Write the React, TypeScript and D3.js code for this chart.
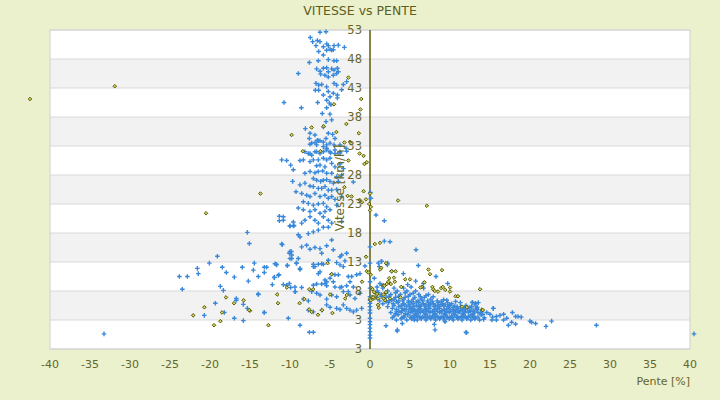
import * as d3 from "d3";

// Pente [%], Vitesse [km/h]
const blueTop: [number, number][] = [
  [-6.25, 52.6], [-5.5, 52.7], [-7.46, 51.7], [-7.17, 51.0], [-6.58, 51.2], [-6.25, 51.0], [-5.42, 50.6], [-5.21, 50.3],
  [-4.5, 50.3], [-3.96, 50.4], [-3.2, 50.0], [-6.75, 50.3], [-5.83, 50.1], [-6.42, 49.3], [-5.83, 48.7], [-5.42, 49.5],
  [-5, 49.7], [-4.8, 49.5], [-4.58, 49.6], [-5.21, 47.9], [-4.5, 47.7], [-4.17, 47.7], [-7.58, 47.4], [-6.46, 47.7],
  [-8.96, 45.5], [-6.67, 46.3], [-6.25, 45.9], [-5.83, 46.4], [-5.42, 46.5], [-5.21, 45.8], [-4.79, 46.3], [-4.5, 46.1],
  [-4.08, 46.4], [-6.17, 45.4], [-5.63, 45.2], [-5.21, 44.9], [-4.58, 45.2], [-4.17, 45.5], [-3.96, 45.8], [-6.75, 43.8],
  [-6.42, 43.5], [-6.04, 43.6], [-5.42, 43.2], [-4.5, 43.8], [-4.17, 43.5], [-3.33, 43.6], [-2.92, 44.1], [-6.83, 42.6],
  [-6.42, 42.6], [-5.83, 41.8], [-5.21, 42.4], [-5, 41.5], [-4.58, 42.1], [-4.08, 41.8], [-4.08, 41.3], [-3.54, 42.7],
  [-10.75, 40.5], [-6.54, 40.5], [-5.42, 40.9], [-5.08, 40.4], [-4.88, 40.1], [-8.58, 39.6], [-5.42, 39.6], [-5.96, 38.6],
  [-5, 38.5], [-4.79, 37.5], [-5.5, 37.2], [-5.83, 36.3], [-8.08, 36.0], [-7.5, 35.2], [-6.88, 34.9], [-6.58, 34.0],
  [-7.58, 34.3], [-7.29, 33.5], [-6.67, 33.2], [-6.25, 33.9], [-5.5, 34.3], [-5.21, 35.2], [-4.67, 35.0], [-4.38, 34.3],
  [-5.83, 32.9], [-5.42, 32.6], [-5, 32.0], [-4.38, 32.3], [-3.75, 32.0], [-2.92, 32.1], [-6.88, 32.0], [-8.13, 32.0],
  [-7.5, 31.7],
];

const blueMid: [number, number][] = [
  [-7.5, 33.3], [-6.88, 33.6], [-6.46, 33.9], [-5.83, 33.7], [-5.42, 33.2], [-5, 33.5], [-4.5, 33.2], [-3.75, 33.2],
  [-3, 32.6], [-7.71, 31.7], [-7.29, 31.4], [-6.67, 32.0], [-6.25, 31.7], [-5.83, 32.0], [-5.42, 32.3], [-4.92, 31.8],
  [-4.38, 31.7], [-3.75, 31.8], [-5, 30.9], [-5.42, 30.6], [-5.83, 30.9], [-6.46, 30.6], [-7.08, 30.6], [-7.5, 30.3],
  [-8.33, 30.6], [-8.75, 30.5], [-6.67, 29.6], [-6.25, 29.7], [-5.63, 29.4], [-4.79, 30.0], [-4.38, 29.4], [-3.75, 29.9],
  [-3.33, 29.1], [-11.04, 30.6], [-10.42, 30.5], [-9.92, 29.7], [-9.58, 28.9], [-8.13, 28.3], [-7.5, 28.6], [-6.88, 28.4],
  [-6.46, 28.6], [-5.92, 28.7], [-5.42, 28.3], [-4.79, 28.3], [-4.17, 27.7], [-3.54, 28.0], [-7.08, 27.4], [-6.67, 27.1],
  [-6.17, 26.9], [-5.83, 27.1], [-5.42, 27.2], [-5, 26.9], [-4.58, 26.6], [-3.96, 26.9], [-9.67, 26.9], [-8.75, 26.3],
  [-8.13, 26.6], [-7.5, 26.1], [-7.08, 26.0], [-6.46, 25.7], [-6.04, 25.7], [-5.63, 26.0], [-5.21, 25.4], [-4.79, 25.4],
  [-4.17, 25.5], [-9.25, 25.1], [-8.54, 24.8], [-7.92, 24.5], [-7.5, 24.3], [-6.88, 24.8], [-6.25, 24.3], [-5.63, 24.5],
  [-5.21, 24.0], [-4.79, 24.3], [-4.38, 23.8], [-3.54, 24.3], [-8.33, 23.4], [-7.71, 23.1], [-7.08, 22.8], [-6.46, 23.0],
  [-5.83, 23.1], [-5.42, 22.5], [-8.96, 22.3], [-8.33, 22.0], [-7.5, 21.7], [-6.88, 22.0], [-6.25, 21.4], [-5.63, 21.7],
  [-5, 22.0], [-4.17, 22.8], [-10.83, 20.8], [-11.33, 20.1], [-10, 19.2], [-9.58, 19.2], [-9.58, 19.9], [-8.54, 19.7],
  [-8.13, 20.2], [-7.5, 20.8], [-6.88, 20.2], [-6.46, 19.7], [-5.83, 20.8], [-5.21, 20.2], [-4.79, 19.7], [-3.54, 20.0],
  [-8.75, 17.3], [-7.71, 17.9], [-7.08, 18.2], [-6.46, 18.5], [-5.83, 19.0], [-5.21, 19.0], [-11.04, 16.1], [-10, 14.8],
  [-9.79, 14.2], [-8.96, 13.6], [-8.54, 15.6], [-7.92, 15.9], [-7.5, 15.2], [-6.88, 15.5], [-6.25, 15.3], [-6.04, 14.5],
  [-5.42, 15.8], [-4.79, 16.8], [-4.58, 15.1], [-3.54, 14.2], [-2.92, 14.5], [-12.92, 12.1], [-11.88, 12.7], [-10, 13.6],
  [-8.75, 11.9], [-7.08, 12.2], [-6.04, 12.7], [-5.21, 13.3], [-4.17, 12.9], [-3.75, 13.9], [-3.13, 13.2],
  [0.05, 25.0], [0.1, 24.0], [-2.08, 26.8],
];

const blueLeft: [number, number][] = [
  [-11.33, 20.9], [-10.83, 20.2], [-10, 19.2], [-9.5, 19.3], [-8.96, 17.7], [-15.33, 18.1], [-15.08, 16.2], [-10.96, 16.0],
  [-10.08, 14.5], [-9.83, 14.8], [-9.79, 13.6], [-19.08, 14.0], [-20.08, 12.8], [-14.46, 12.8], [-11.71, 12.6], [-10.33, 12.4],
  [-9.21, 12.8], [-21.58, 11.9], [-21.46, 11.0], [-18.46, 12.1], [-17.96, 11.2], [-15.96, 12.1], [-14.58, 11.6], [-13.21, 12.1],
  [-13.21, 11.2], [-13.96, 10.5], [-16.96, 10.4], [-23.83, 10.5], [-22.83, 10.5], [-15.21, 9.7], [-11.46, 10.7], [-11.96, 10.4],
  [-12.21, 9.1], [-10.83, 9.1], [-10.42, 9.0], [-10.08, 9.3], [-9.92, 8.6], [-9.33, 7.9], [-23.46, 8.3], [-18.71, 8.8],
  [-18.33, 8.1], [-13.96, 7.4], [-16.71, 6.7], [-16.71, 6.4], [-15.83, 5.7], [-19.33, 5.9], [-20.71, 3.8], [-18.21, 4.3],
  [-15.33, 5.0], [-13.21, 4.3], [-16.96, 3.3], [-15.83, 2.9], [-10.21, 3.3], [-33.25, 0.6],
];

const blueNearZero: [number, number][] = [
  [-11.67, 12.5], [-10.33, 12.4], [-9.17, 12.8], [-7.08, 12.6], [-6.46, 12.6], [-5.83, 12.6], [-8.75, 11.7], [-6.88, 12.2],
  [-6.25, 11.3], [-6.46, 11.0], [-3.75, 12.5], [-3.33, 12.2], [-0.63, 12.3], [-1.25, 11.0], [-1.67, 10.8], [-11.96, 10.3],
  [-11.38, 10.8], [-9.38, 8.7], [-8.54, 8.6], [-7.08, 9.0], [-6.67, 9.2], [-6.04, 9.2], [-5.63, 9.9], [-5.42, 9.6],
  [-5.63, 9.3], [-4.79, 10.9], [-4.38, 10.8], [-3.96, 10.8], [-5, 10.2], [-4.58, 9.6], [-5.42, 8.9], [-4.38, 8.7],
  [-3.75, 8.6], [-3.54, 8.7], [-2.92, 8.9], [-2.5, 9.6], [-2.29, 10.5], [-2.71, 10.5], [-2.08, 8.7], [-9.38, 7.9],
  [-7.29, 7.9], [-6.67, 7.6], [-6.25, 7.3], [-13.96, 7.5], [-8.33, 6.6], [-7.71, 6.3], [-5.42, 6.6], [-4.79, 7.3],
  [-4.17, 7.0], [-3.33, 7.9], [-2.71, 7.9], [-2.5, 7.3], [-1.88, 6.7], [-1.25, 7.6], [-5.42, 5.6], [-5, 5.2],
  [-4.17, 5.0], [-3.75, 4.8], [-3.33, 5.6], [-2.92, 5.0], [-2.5, 4.7], [-2.08, 4.4], [-1.67, 4.7], [-1.04, 5.0],
  [-7.71, 4.7], [-6.04, 4.7], [-7.08, 4.4], [-13.21, 4.3], [-8.75, 2.1], [-7.58, 0.9], [-7.08, 0.9],
  [0, 15.6], [0, 12.8], [0, 9.6], [0, 8.5], [0, 7.0], [0, 6.4], [0, 5.9], [0, 5.3], [0, 4.7], [0, 4.2], [0, 3.3],
  [0, 2.7], [0, 2.2], [0, 1.6], [0, 1.0], [0, 0.4], [0, -0.1],
];

const blueRight: [number, number][] = [
  [1.04, 12.8], [1.46, 13.1], [2.21, 12.8], [6.04, 12.4], [2.71, 11.4], [4.17, 11.0], [5.71, 9.7], [8.25, 10.5],
  [0.54, 10.2], [1.25, 9.3], [1.46, 9.0], [0.88, 8.7], [4.71, 9.1], [5.13, 8.7], [6.67, 9.3], [6.71, 8.5], [9.71, 9.3],
  [12.79, 6.0], [13.13, 5.6], [13.54, 6.0], [13.33, 5.0], [12.71, 5.3], [15.42, 5.0], [2.0, 2.0], [3.42, 1.3], [4.04, 2.4],
  [5.54, 3.0], [8.04, 2.25], [8.13, 1.3], [9.38, 2.7], [12.0, 0.9], [15.33, 3.5], [12.8, 6.05], [13.2, 5.9], [13.4, 5.2],
  [15.4, 5.0], [17.8, 4.3], [18.2, 3.6], [18.5, 3.6], [18.9, 3.5], [20, 2.8], [20.2, 2.6], [20.7, 2.4], [22.7, 2.8],
  [22, 1.9], [28.3, 2.1], [17.3, 2.1], [17.7, 2.6], [18.2, 2.3], [15, 4.0], [15.8, 3.6], [16.25, 3.8], [16.7, 4.0],
  [17.1, 3.3], [15.25, 3], [15.8, 3], [16.7, 3], [0.75, 21.1], [1.79, 20.1], [2.5, 16.5], [1.79, 16.6], [5.75, 15.1],
  [1.42, 13.1], [1.17, 12.2], [2.17, 12.5], [40.5, 0.6], [3.4, 1.1], [12.06, 0.8],
];

// the dense cloud between 0 and 15 %
const blueCore: [number, number][] = [
  [3.3, 3.0], [4.6, 3.0], [5.9, 3.0], [7.0, 3.0], [8.2, 3.0], [9.3, 3.0], [10.4, 3.0], [11.5, 3.0], [12.6, 3.0], [13.7, 3.0],
  [2.8, 3.4], [4.0, 3.4], [5.2, 3.4], [6.4, 3.4], [7.6, 3.4], [8.8, 3.4], [10.0, 3.4], [11.1, 3.4], [12.1, 3.4], [13.2, 3.4], [14.3, 3.4],
  [3.5, 3.9], [4.7, 3.9], [5.8, 3.9], [7.0, 3.9], [8.1, 3.9], [9.4, 3.9], [10.6, 3.9], [11.7, 3.9], [12.8, 3.9], [13.9, 3.9],
  [2.6, 4.3], [3.9, 4.3], [5.1, 4.3], [6.3, 4.3], [7.5, 4.3], [8.7, 4.3], [9.9, 4.3], [11.0, 4.3], [12.3, 4.3], [13.5, 4.3], [14.6, 4.3],
  [3.3, 4.8], [4.5, 4.8], [5.6, 4.8], [6.9, 4.8], [8.1, 4.8], [9.3, 4.8], [10.4, 4.8], [11.6, 4.8], [12.9, 4.7], [14.0, 4.6],
  [2.2, 5.3], [3.6, 5.3], [4.9, 5.3], [6.2, 5.3], [7.3, 5.3], [8.6, 5.3], [9.8, 5.3], [10.9, 5.3], [12.0, 5.5],
  [1.6, 5.8], [2.9, 5.8], [4.2, 5.8], [5.4, 5.8], [6.7, 5.8], [7.9, 5.8], [9.1, 5.8], [10.2, 5.8], [11.3, 6.0],
  [1.2, 6.3], [2.4, 6.3], [3.6, 6.3], [4.8, 6.3], [6.0, 6.3], [7.2, 6.3], [8.4, 6.3], [9.6, 6.4],
  [0.8, 6.9], [2.0, 6.9], [3.2, 6.9], [4.4, 6.9], [5.6, 6.9], [6.8, 6.9], [7.9, 7.0],
  [1.4, 7.4], [2.6, 7.4], [3.8, 7.4], [5.0, 7.4], [6.1, 7.4], [7.3, 7.4],
  [0.9, 8.0], [2.2, 8.0], [3.4, 8.0], [4.6, 8.0], [5.7, 8.0],
  [1.6, 8.5], [3.0, 8.5], [4.2, 8.5],
  [3.0, 3.7], [4.2, 3.6], [5.4, 3.7], [6.6, 3.6], [7.8, 3.7], [9.0, 3.6], [10.2, 3.7], [11.4, 3.6], [12.5, 3.7],
  [4.0, 4.6], [5.3, 4.5], [6.5, 4.6], [7.8, 4.5], [9.0, 4.6], [10.1, 4.5], [11.3, 4.6], [12.6, 4.5],
  [4.3, 5.6], [5.8, 5.5], [7.0, 5.6], [8.2, 5.5], [9.4, 5.6],
];

const blueCoreFill: [number, number][] = [
  [3.9, 3.2], [5.2, 3.2], [6.4, 3.2], [7.6, 3.2], [8.7, 3.2], [9.9, 3.2], [11.0, 3.2], [12.1, 3.2], [13.1, 3.2], [14.2, 3.1],
  [3.2, 4.1], [4.4, 4.1], [5.7, 4.1], [6.9, 4.1], [8.1, 4.1], [9.3, 4.1], [10.5, 4.1], [11.6, 4.1], [12.9, 4.1], [14.1, 4.0],
  [2.8, 5.0], [4.0, 5.0], [5.2, 5.0], [6.3, 5.0], [7.5, 5.0], [8.7, 5.0], [9.9, 5.0], [11.0, 5.0], [12.2, 5.0],
  [2.3, 6.0], [3.5, 6.0], [4.8, 6.0], [6.1, 6.0], [7.3, 6.0], [8.5, 6.0], [9.7, 6.0], [10.7, 6.2],
  [1.8, 6.6], [3.0, 6.6], [4.2, 6.6], [5.4, 6.6], [6.4, 6.6], [7.6, 6.6],
  [1.0, 7.7], [2.0, 7.6], [3.2, 7.7], [4.4, 7.7], [5.4, 7.6],
  [6.0, 3.6], [7.2, 3.5], [8.4, 3.6], [9.6, 3.5], [10.8, 3.5], [11.9, 3.6], [13.0, 3.6],
  [5.9, 4.5], [7.1, 4.5], [8.4, 4.5], [9.6, 4.5], [10.7, 4.6], [11.9, 4.5],
  [5.0, 5.6], [6.4, 5.6], [7.6, 5.7], [8.9, 5.6], [10.0, 5.6], [10.6, 5.4],
];

const blueCoreDense: [number, number][] = [
  [4.3, 3.5], [5.0, 3.5], [5.6, 3.4], [6.2, 3.5], [6.9, 3.4], [7.4, 3.5], [8.0, 3.4], [8.5, 3.5], [9.2, 3.4], [9.7, 3.5],
  [10.3, 3.4], [10.9, 3.5], [11.6, 3.4], [12.3, 3.5], [12.9, 3.4], [13.5, 3.5],
  [3.6, 4.5], [4.8, 4.4], [5.5, 4.5], [6.1, 4.4], [6.7, 4.4], [7.3, 4.5], [8.0, 4.4], [8.9, 4.4], [9.5, 4.3], [10.4, 4.4],
  [11.2, 4.4], [11.8, 4.3], [12.4, 4.6], [13.1, 4.4], [13.8, 4.2],
  [3.0, 5.5], [3.9, 5.5], [4.6, 5.4], [5.4, 5.3], [6.1, 5.5], [6.8, 5.4], [7.4, 5.6], [8.0, 5.3], [8.6, 5.6], [9.2, 5.4],
  [9.9, 5.5], [10.4, 5.2], [11.3, 5.3], [11.8, 5.1], [12.5, 5.2],
  [2.0, 6.2], [2.7, 6.4], [3.3, 6.2], [4.1, 6.3], [5.2, 6.2], [5.8, 6.1], [6.6, 6.3], [7.8, 6.2], [8.9, 6.2], [9.2, 6.5],
  [1.4, 7.1], [2.4, 7.1], [3.6, 7.1], [4.8, 7.1], [6.3, 7.0], [7.0, 7.2],
  [3.3, 4.4], [4.3, 4.8], [5.0, 4.9], [6.0, 4.8], [7.0, 5.0], [8.4, 4.9], [9.6, 4.9], [10.8, 4.8], [11.9, 4.9], [13.4, 4.8],
];

const olivePoints: [number, number][] = [
  [-42.5, 41.1], [-31.9, 43.3], [-20.5, 21.4], [-13.7, 24.8],
  [-2.7, 44.8], [-1.1, 41.1], [-1.2, 39.3], [-2.95, 36.8], [-1.4, 35.2], [-7.3, 36.2], [-4.2, 35.4], [-5.8, 36.4],
  [-4.5, 40.2], [-9.8, 34.9], [-8.4, 32.1], [-6.2, 32.1], [-3.2, 33.6], [-2.7, 30.5], [-2.5, 33.7], [-3.2, 25.9],
  [-2.8, 24.4], [-1.3, 31.7], [-0.8, 31.3], [-0.4, 30.2], [-0.7, 29.9], [-0.8, 25.2], [-2.3, 24.3], [-1.3, 23.7],
  [-0.5, 23.8], [-1.0, 23.3], [0, 24.8], [0.1, 22.5], [-0.1, 23.0], [0, 21.9], [3.5, 23.6], [7.1, 22.7],
  [0.6, 16.1], [1.25, 16.3], [-0.5, 13.9],
  [1.4, 12.0], [1.25, 11.7], [2, 12.8], [2.7, 11.4], [3.2, 11.4], [7.3, 11.7], [7.5, 10.9], [9.0, 11.6], [-0.4, 11.4],
  [0.1, 10.8], [2.4, 10.2], [3.0, 10.3], [2.3, 9.6], [3.1, 9.6], [2.6, 9.2], [1.7, 9.0], [2.1, 9.2], [4.4, 10.0],
  [5.0, 10.0], [6.8, 9.5], [6.5, 8.7], [6.3, 8.6], [7.8, 8.7], [7.9, 8.3], [8.1, 8.0], [8.5, 7.9], [8.9, 8.5],
  [9.1, 8.7], [9.4, 8.2], [10.0, 8.6], [10.0, 7.9], [10.7, 7.1], [11.0, 7.1], [13.75, 8.3], [11.5, 5.3], [12.1, 5.2],
  [14.0, 4.8], [0.2, 8.5], [0.5, 7.8], [0.8, 7.3], [0.3, 7.0], [0.9, 7.5], [0.5, 6.7], [1.0, 6.7], [0, 6.6], [1.1, 5.1],
  [1.0, 5.6], [1.8, 8.9], [1.7, 6.7], [2.5, 6.7], [1.9, 6.4], [3.9, 8.7], [3.8, 6.9], [1.7, 7.4], [2.0, 7.8],
  [-5.3, 12.8], [-4.8, 10.9], [-7.6, 8.3], [-11.6, 7.4], [-11.5, 5.9], [-8.8, 5.9], [-8.2, 6.6], [-7.6, 4.8], [-7.3, 4.4],
  [-6.0, 4.7], [-6.5, 3.9], [-5.0, 7.4], [-4.7, 4.2], [-12.7, 2.1], [-2.9, 7.3], [-3.1, 6.7], [-1.0, 9.6], [-0.2, 11.2],
  [0.3, 8.3], [0.4, 6.9], [0.1, 6.4], [-15, 4.6], [-7.1, 8.3],
  [-18, 6.9], [-20.7, 5.2], [-22.1, 3.8], [-19.5, 2.1], [-18.7, 2.8], [-18.5, 4.3], [-17, 5.9], [-15.8, 6.4], [-15.1, 4.7],
  [-10.4, 8.6], [14.1, 4.7],
];

const xTicks = [-40, -35, -30, -25, -20, -15, -10, -5, 0, 5, 10, 15, 20, 25, 30, 35, 40];
const yTicks = [53, 48, 43, 38, 33, 28, 23, 18, 13, 8, 3, -2];
const yTickLabels = ["53", "48", "43", "38", "33", "28", "23", "18", "13", "8", "3", "3"];

const title = "VITESSE vs PENTE";
const xTitle = "Pente [%]";
const yTitle = "Vitesse [km/h]";

export default function App() {
  const width = 720;
  const height = 400;
  const marginTop = 30;
  const marginRight = 30;
  const marginBottom = 51;
  const marginLeft = 50;
  const font = "DejaVu Sans, Verdana, sans-serif";
  const textColor = "#66662a";

  const x = d3.scaleLinear([-40, 40], [marginLeft, width - marginRight]);
  const y = d3.scaleLinear([-2, 53], [height - marginBottom, marginTop]);

  const blue = [...blueTop, ...blueMid, ...blueLeft, ...blueNearZero, ...blueRight, ...blueCore, ...blueCoreFill, ...blueCoreDense];
  const cross = "M-2.3,0H2.3M0,-2.3V2.3";
  const diamond = "M0,-1.8L1.8,0L0,1.8L-1.8,0Z";

  const bands = yTicks.slice(0, -1).map((t, i) => ({ top: t, bottom: yTicks[i + 1], i }));

  return (
    <svg width={width} height={height} style={{ position: "absolute", left: 0, top: 0, fontFamily: font }}>
      <rect width={width} height={height} fill="#ebf0cd" />
      {bands.map((b) => (
        <rect key={b.i} x={x(-40)} y={y(b.top)} width={x(40) - x(-40)} height={y(b.bottom) - y(b.top)}
          fill={b.i % 2 === 1 ? "#f2f2f2" : "#ffffff"} />
      ))}
      {yTicks.map((t) => (
        <line key={t} x1={x(-40)} x2={x(40)} y1={y(t)} y2={y(t)} stroke="#d9d9d9" strokeWidth={1.2} />
      ))}
      <rect x={x(-40)} y={y(53)} width={x(40) - x(-40)} height={y(-2) - y(53)} fill="none" stroke="#d6d6d6" strokeWidth={1.2} />
      <line x1={x(0)} x2={x(0)} y1={y(53)} y2={y(-2)} stroke="#5c5c0a" strokeWidth={1.5} />

      <g stroke="#3a88da" strokeWidth={1.4} fill="none">
        {blue.map(([px, py], i) => (
          <path key={i} d={cross} transform={`translate(${x(px)},${y(py)})`} />
        ))}
      </g>
      <g stroke="#5a5c00" strokeWidth={1} fill="#cfd070">
        {olivePoints.map(([px, py], i) => (
          <path key={i} d={diamond} transform={`translate(${x(px)},${y(py)})`} />
        ))}
      </g>

      <g fill={textColor} fontSize={11.5} textAnchor="end">
        {yTicks.map((t, i) => (
          <text key={t} x={x(0) - 8} y={y(t)} dy="0.36em">{yTickLabels[i]}</text>
        ))}
      </g>
      <g fill={textColor} fontSize={11} textAnchor="middle">
        {xTicks.map((t) => (
          <text key={t} x={x(t)} y={364} dy="0.36em">{t}</text>
        ))}
      </g>
      <text x={x(40)} y={381} dy="0.36em" textAnchor="end" fill={textColor} fontSize={11}>{xTitle}</text>
      <text transform={`translate(344,188) rotate(-90)`} textAnchor="middle" fill={textColor} fontSize={12}>{yTitle}</text>
      <text x={width / 2} y={10} dy="0.36em" textAnchor="middle" fill="#5e5e1e" fontSize={12.5}>{title}</text>
    </svg>
  );
}
